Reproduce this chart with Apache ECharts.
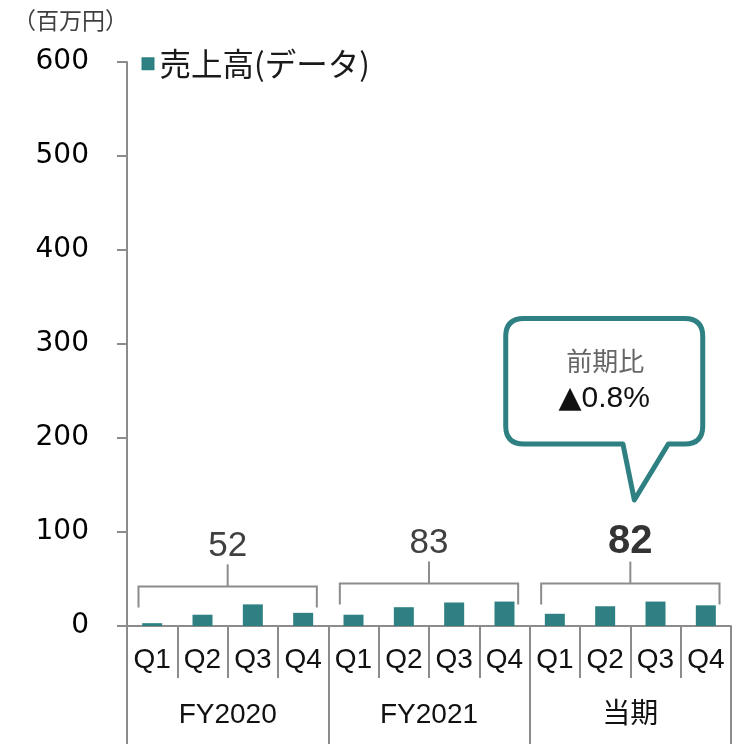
<!DOCTYPE html>
<html><head><meta charset="utf-8">
<script src="https://cdn.jsdelivr.net/npm/echarts/dist/echarts.min.js"></script>
<style>html,body{margin:0;padding:0;background:#fff}#c{width:746px;height:744px}</style>
</head><body><div id="c"></div>
<script>
const quarters = ['Q1','Q2','Q3','Q4','Q1','Q2','Q3','Q4','Q1','Q2','Q3','Q4'];
const groups = ['FY2020','FY2021','当期'];
const sales = [3,12,23,14, 12,20,25,26, 13,21,26,22];
const totals = [52,83,82];
const seriesName = '売上高(データ)';
const unitLabel = '（百万円）';
const calloutTitle = '前期比';
const calloutMark = '▲';
const calloutValue = '0.8%';

const TEAL = '#2e8083';
const GREY = '#8c8c8c';
const groupData = groups.map((g, i) => [i, totals[i], Math.max.apply(null, sales.slice(i * 4, i * 4 + 4))]);

function renderGroup(params, api) {
  const i = api.value(0);
  const cx = api.coord([i, 0])[0];
  const bw = api.size([1, 0])[0];
  const yTop = api.coord([i, api.value(2)])[1] - 18;
  const x1 = cx - bw / 2 + 11.5, x2 = cx + bw / 2 - 11.5;
  const yEnd = yTop + 21, yStem = yTop - 22;
  const isCur = i === groups.length - 1;
  const lineStyle = { stroke: GREY, lineWidth: 2, fill: null };
  const labelY = yStem - (isCur ? 20 : 18);
  const children = [
    { type: 'polyline', shape: { points: [[x1, yEnd], [x1, yTop], [x2, yTop], [x2, yEnd]] }, style: lineStyle },
    { type: 'line', shape: { x1: cx, y1: yTop, x2: cx, y2: yStem }, style: lineStyle },
    { type: 'text', style: { text: String(api.value(1)), x: cx, y: labelY, align: 'center', verticalAlign: 'middle',
        fontSize: isCur ? 40 : 35, fontWeight: isCur ? 'bold' : 'normal', fontFamily: 'Liberation Sans, Arial, sans-serif',
        fill: isCur ? '#333333' : '#404040' } }
  ];
  if (isCur) {
    const tip = labelY - 41.5;
    const bot = tip - 56, top = bot - 125.5;
    const L = cx - 124.6, R = cx + 72.4, r = 18;
    const pl = cx - 7.4, pr = cx + 38, tx = cx + 4;
    const d = `M${pl} ${bot} L${tx} ${tip} L${pr} ${bot} L${R - r} ${bot} Q${R} ${bot} ${R} ${bot - r} L${R} ${top + r} Q${R} ${top} ${R - r} ${top} L${L + r} ${top} Q${L} ${top} ${L} ${top + r} L${L} ${bot - r} Q${L} ${bot} ${L + r} ${bot} Z`;
    const mx = (L + R) / 2;
    children.push(
      { type: 'path', shape: { pathData: d }, style: { fill: '#ffffff', stroke: TEAL, lineWidth: 5, lineJoin: 'round' } },
      { type: 'text', style: { text: calloutTitle, x: mx + 1, y: top + 42.5, align: 'center', verticalAlign: 'middle',
          fontSize: 26, fontFamily: 'Noto Sans CJK JP, sans-serif', fill: '#666666' } },
      { type: 'text', style: { text: '{m|' + calloutMark + '}{v|' + calloutValue + '}', x: mx, y: top + 80.5, align: 'center', verticalAlign: 'middle',
          rich: {
            m: { fontSize: 30, fontFamily: 'DejaVu Sans, sans-serif', fill: '#111111', color: '#111111' },
            v: { fontSize: 30, fontFamily: 'Liberation Sans, Arial, sans-serif', fill: '#111111', color: '#111111' }
          } } }
    );
  }
  return { type: 'group', children };
}

const chart = echarts.init(document.getElementById('c'), null, { renderer: 'canvas' });
chart.setOption({
  animation: false,
  backgroundColor: '#ffffff',
  grid: { left: 127, right: 15, top: 62, bottom: 118, containLabel: false },
  graphic: [{ type: 'text', left: 13, top: 9, style: { text: unitLabel, fontSize: 23, fontFamily: 'Noto Sans CJK JP, sans-serif', fill: '#404040' } }],
  legend: {
    data: [{ name: seriesName, icon: 'rect' }],
    left: 141.5, top: 48, padding: 0, itemWidth: 13, itemHeight: 13,
    textStyle: { fontSize: 31.5, fontFamily: 'Noto Sans CJK JP, sans-serif', color: '#1a1a1a' }
  },
  xAxis: [
    {
      type: 'category', data: quarters, position: 'bottom',
      axisLine: { show: true, lineStyle: { color: GREY, width: 2 } },
      axisTick: { show: true, interval: 0, length: 52, lineStyle: { color: GREY, width: 2 } },
      axisLabel: { interval: 0, margin: 20, fontSize: 28, fontFamily: 'Liberation Sans, Arial, sans-serif', color: '#111111' },
      splitLine: { show: false }
    },
    {
      type: 'category', data: groups, position: 'bottom', offset: 0,
      axisLine: { show: false },
      axisTick: { show: true, interval: 0, length: 118, lineStyle: { color: GREY, width: 2 } },
      axisLabel: { interval: 0, margin: 75, fontSize: 28, fontFamily: 'Liberation Sans, Noto Sans CJK JP, sans-serif', color: '#111111' },
      splitLine: { show: false }
    }
  ],
  yAxis: {
    type: 'value', min: 0, max: 600, interval: 100,
    axisLine: { show: true, lineStyle: { color: GREY, width: 2 } },
    axisTick: { show: true, length: 10, lineStyle: { color: GREY, width: 2 } },
    axisLabel: { margin: 38, fontSize: 28, fontFamily: 'DejaVu Sans, sans-serif', color: '#000000', padding: [6, 0, 0, 0] },
    splitLine: { show: false }
  },
  series: [
    { name: seriesName, type: 'bar', xAxisIndex: 0, yAxisIndex: 0, data: sales, barWidth: 20,
      itemStyle: { color: TEAL } },
    { type: 'custom', xAxisIndex: 1, yAxisIndex: 0, data: groupData, renderItem: renderGroup, z: 5, clip: false,
      encode: { x: 0, y: 1 } }
  ]
});
</script></body></html>
